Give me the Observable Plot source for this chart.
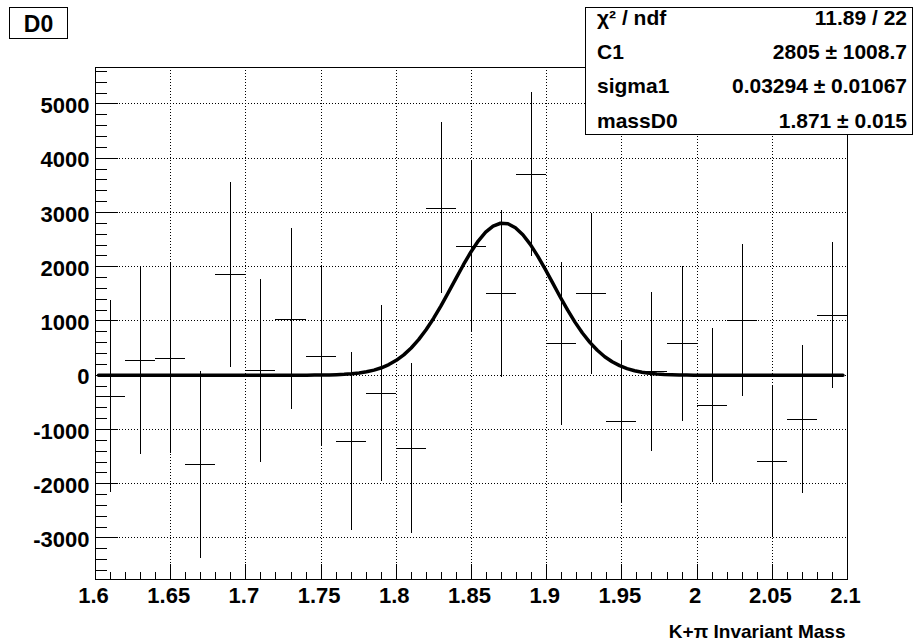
<!DOCTYPE html>
<html>
<head>
<meta charset="utf-8">
<script src="https://cdn.jsdelivr.net/npm/d3@7"></script>
<script src="https://cdn.jsdelivr.net/npm/@observablehq/plot@0.6"></script>
<style>
  html, body { margin: 0; padding: 0; background: white; }
  #chart { position: relative; width: 918px; height: 643px; }
</style>
</head>
<body>
<div id="chart"></div>
<script>
// ---- data ----
const binCenters = [1.61, 1.63, 1.65, 1.67, 1.69, 1.71, 1.73, 1.75, 1.77, 1.79,
                    1.81, 1.83, 1.85, 1.87, 1.89, 1.91, 1.93, 1.95, 1.97, 1.99,
                    2.01, 2.03, 2.05, 2.07, 2.09];
const binCounts = [-400, 270, 310, -1650, 1850, 80, 1030, 350, -1220, -330,
                   -1350, 3080, 2380, 1500, 3700, 580, 1500, -850, 60, 580,
                   -550, 1010, -1590, -820, 1100];
const binErrors = [1770, 1740, 1750, 1720, 1700, 1690, 1670, 1670, 1640, 1620,
                   1575, 1580, 1575, 1535, 1520, 1500, 1490, 1490, 1460, 1430,
                   1420, 1400, 1395, 1360, 1340];
const binWidth = 0.02;

// fit parameters shown in the stats box
const fitC1 = 2805, fitSigma = 0.03294, fitMean = 1.871;
const fitRange = [1.602, 2.097];

const xMajorTicks = [1.6, 1.65, 1.7, 1.75, 1.8, 1.85, 1.9, 1.95, 2.0, 2.05, 2.1];
const yMajorTicks = [-3000, -2000, -1000, 0, 1000, 2000, 3000, 4000, 5000];
const statsLabels = ["χ² / ndf", "C1", "sigma1", "massD0"];
const statsValues = ["11.89 / 22", "2805 ± 1008.7", "0.03294 ± 0.01067", "1.871 ± 0.015"];
const histTitle = "D0";
const xTitle = "K+π Invariant Mass";

// ---- derived tables ----
const bins = binCenters.map((c, i) => ({
  c, lo: c - binWidth / 2, hi: c + binWidth / 2,
  v: binCounts[i], e: binErrors[i]
}));
const xMinorTicks = d3.range(0, 51).map(i => +(1.6 + i * 0.01).toFixed(2));
const yMinorTicks = d3.range(-3600, 5601, 200);
const nFit = 100;
const fitPoints = d3.range(nFit + 1).map(i => {
  const x = fitRange[0] + (fitRange[1] - fitRange[0]) * i / nFit;
  return {x, y: fitC1 * Math.exp(-0.5 * ((x - fitMean) / fitSigma) ** 2)};
});

const W = 918, H = 643;
const mL = 95, mR = 71, mT = 67, mB = 64;
const frameW = W - mL - mR, frameH = H - mT - mB;
const font = "'Liberation Sans', Arial, Helvetica, sans-serif";
const crisp = {shapeRendering: "crispEdges"};

const chart = Plot.plot({
  width: W, height: H,
  marginLeft: mL, marginRight: mR, marginTop: mT, marginBottom: mB,
  x: {domain: [1.6, 2.1]},
  y: {domain: [-3765, 5672]},
  style: {fontFamily: font, fontWeight: "bold", background: "white", color: "black"},
  marks: [
    Plot.gridX(xMajorTicks, {stroke: "black", strokeOpacity: 1, strokeDasharray: "1,2", ...crisp}),
    Plot.gridY(yMajorTicks, {stroke: "black", strokeOpacity: 1, strokeDasharray: "1,2", ...crisp}),
    // inward ticks (ROOT style)
    Plot.tickX(xMinorTicks, {x: d => d, insetTop: frameH - 7.5, stroke: "black", ...crisp}),
    Plot.tickX(xMajorTicks, {x: d => d, insetTop: frameH - 15, stroke: "black", ...crisp}),
    Plot.tickY(yMinorTicks, {y: d => d, insetRight: frameW - 11.5, stroke: "black", ...crisp}),
    Plot.tickY(yMajorTicks, {y: d => d, insetRight: frameW - 23, stroke: "black", ...crisp}),
    Plot.axisX({ticks: xMajorTicks, tickSize: 0, tickPadding: 8, fontSize: 22, fontWeight: "bold",
      tickFormat: d => String(+d.toFixed(2)), label: null, dx: -2}),
    Plot.axisY({ticks: yMajorTicks, tickSize: 0, tickPadding: 6, fontSize: 22, fontWeight: "bold",
      tickFormat: d => String(d), label: null, dy: 2}),
    // histogram with error bars
    Plot.ruleX(bins, {x: "c", y1: d => d.v - d.e, y2: d => d.v + d.e, stroke: "black", strokeWidth: 1, ...crisp}),
    Plot.ruleY(bins, {y: "v", x1: "lo", x2: "hi", stroke: "black", strokeWidth: 1, ...crisp}),
    // fit
    Plot.line(fitPoints, {x: "x", y: "y", stroke: "black", strokeWidth: 3.5}),
    Plot.frame({stroke: "black", strokeWidth: 1, ...crisp}),
    Plot.text([xTitle], {frameAnchor: "bottom-right", text: d => d, dy: 52, dx: -2,
      textAnchor: "end", lineAnchor: "middle", fontSize: 19, fontWeight: "bold"})
  ]
});
document.getElementById("chart").appendChild(chart);

// ---- title box & stats box (ROOT-style annotations) ----
const svg = d3.select(chart);
const tg = svg.append("g");
tg.append("rect").attr("x", 9.5).attr("y", 7.5).attr("width", 58).attr("height", 31)
  .attr("fill", "white").attr("stroke", "black");
tg.append("text").attr("x", 38.5).attr("y", 32).attr("text-anchor", "middle")
  .attr("font-family", font).attr("font-weight", "bold").attr("font-size", 23).text(histTitle);

const sg = svg.append("g");
sg.append("rect").attr("x", 585.5).attr("y", 7.5).attr("width", 327).attr("height", 127)
  .attr("fill", "white").attr("stroke", "black");
const rowBase = [25, 59, 93, 127.5];
statsLabels.forEach((lab, i) => {
  sg.append("text").attr("x", 597).attr("y", rowBase[i]).attr("text-anchor", "start")
    .attr("font-family", font).attr("font-weight", "bold").attr("font-size", 21).text(lab);
  sg.append("text").attr("x", 907).attr("y", rowBase[i]).attr("text-anchor", "end")
    .attr("font-family", font).attr("font-weight", "bold").attr("font-size", 21).text(statsValues[i]);
});
</script>
</body>
</html>
